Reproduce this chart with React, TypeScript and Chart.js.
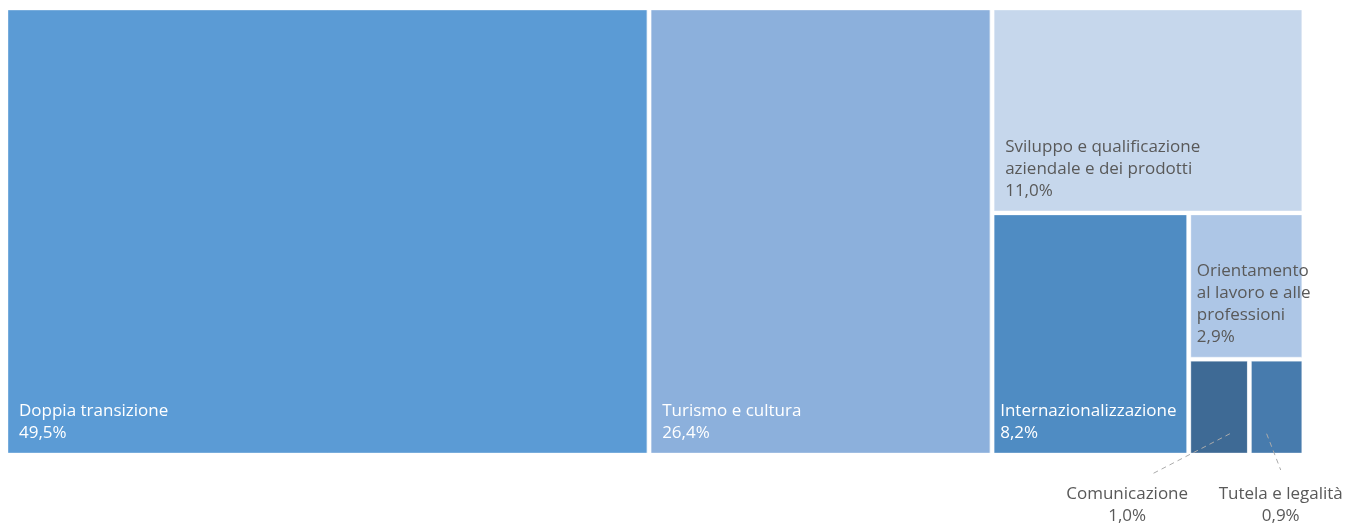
import React, { useEffect, useRef } from "react";
import { Chart, registerables } from "chart.js";

Chart.register(...registerables);

// ---- data ----
const categories = [
  "Doppia transizione",
  "Turismo e cultura",
  "Sviluppo e qualificazione aziendale e dei prodotti",
  "Internazionalizzazione",
  "Orientamento al lavoro e alle professioni",
  "Comunicazione",
  "Tutela e legalità",
];
const labelLines: string[][] = [
  ["Doppia transizione"],
  ["Turismo e cultura"],
  ["Sviluppo e qualificazione", "aziendale e dei prodotti"],
  ["Internazionalizzazione"],
  ["Orientamento", "al lavoro e alle", "professioni"],
  ["Comunicazione"],
  ["Tutela e legalità"],
];
const shares = [49.5, 26.4, 11.0, 8.2, 2.9, 1.0, 0.9];
const percentLabels = ["49,5%", "26,4%", "11,0%", "8,2%", "2,9%", "1,0%", "0,9%"];
const tileColors = ["#5B9BD5", "#8CB0DC", "#C6D7EC", "#4F8CC3", "#ADC6E6", "#3E6A95", "#477BAD"];
const textColors = ["#FFFFFF", "#FFFFFF", "#595959", "#FFFFFF", "#595959", "#595959", "#595959"];
const labelOutside = [false, false, false, false, false, true, true];

// ---- layout constants (pixels) ----
const PAD = { left: 6, right: 44, top: 8, bottom: 68 };
const PLOT_W = 1348 - PAD.left - PAD.right;
const PLOT_H = 523 - PAD.top - PAD.bottom;
const ASPECT = PLOT_W / PLOT_H;
const GAP = 2 / PLOT_H;
const FONT = "17px 'Open Sans', 'Noto Sans', sans-serif";

type Rect = { x0: number; y0: number; x1: number; y1: number };

function squarify(values: number[], area: Rect): Rect[] {
  const out: Rect[] = new Array(values.length);
  const order = values.map((_, i) => i).sort((a, b) => values[b] - values[a]);
  const total = values.reduce((a, b) => a + b, 0);
  const scale = ((area.x1 - area.x0) * (area.y1 - area.y0)) / total;
  let { x0, y0, x1, y1 } = area;
  let i = 0;
  while (i < order.length) {
    const w = x1 - x0;
    const h = y1 - y0;
    const side = Math.min(w, h);
    const worst = (row: number[]) => {
      const a = row.map((k) => values[k] * scale);
      const s = a.reduce((p, q) => p + q, 0);
      const mx = Math.max(...a);
      const mn = Math.min(...a);
      return Math.max((side * side * mx) / (s * s), (s * s) / (side * side * mn));
    };
    const row = [order[i]];
    let j = i + 1;
    while (j < order.length && worst([...row, order[j]]) <= worst(row)) {
      row.push(order[j]);
      j++;
    }
    const s = row.reduce((p, k) => p + values[k] * scale, 0);
    if (w >= h) {
      const cw = s / h;
      let y = y0;
      for (const k of row) {
        const th = (values[k] * scale) / cw;
        out[k] = { x0, y0: y, x1: x0 + cw, y1: y + th };
        y += th;
      }
      x0 += cw;
    } else {
      const rh = s / w;
      let x = x0;
      for (const k of row) {
        const tw = (values[k] * scale) / rh;
        out[k] = { x0: x, y0, x1: x + tw, y1: y0 + rh };
        x += tw;
      }
      y0 += rh;
    }
    i = j;
  }
  return out;
}

const labelPlugin = {
  id: "treemapLabels",
  afterDatasetsDraw(chart: any) {
    const rects: Rect[] = chart.options.plugins.treemapLabels.rects;
    const xs = chart.scales.x;
    const ys = chart.scales.y;
    const ctx = chart.ctx;
    ctx.save();
    ctx.font = FONT;
    ctx.textBaseline = "middle";
    const lineH = 22;
    rects.forEach((r, i) => {
      const left = xs.getPixelForValue(r.x0 + GAP);
      const right = xs.getPixelForValue(r.x1 - GAP);
      const top = ys.getPixelForValue(r.y0 + GAP);
      const bottom = ys.getPixelForValue(r.y1 - GAP);
      const lines = [...labelLines[i], percentLabels[i]];
      if (!labelOutside[i]) {
        ctx.fillStyle = textColors[i];
        ctx.textAlign = "left";
        const padX = right - left < 250 ? 6 : 11;
        const lastY = bottom - 20;
        lines.forEach((t, li) => {
          ctx.fillText(t, left + padX, lastY - (lines.length - 1 - li) * lineH);
        });
      } else {
        const cx = (left + right) / 2;
        const isCom = i === 5;
        const sx = left + (right - left) * (isCom ? 0.69 : 0.3);
        const sy = top + (bottom - top) * 0.79;
        const labelX = isCom ? cx - 92 : cx + 4;
        const ex = isCom ? labelX + 23 : labelX;
        const ey = isCom ? bottom + 22 : bottom + 17;
        ctx.strokeStyle = "#ABABAB";
        ctx.lineWidth = 1;
        ctx.setLineDash([5, 4]);
        ctx.beginPath();
        ctx.moveTo(sx, sy);
        ctx.lineTo(ex, ey);
        ctx.stroke();
        ctx.setLineDash([]);
        ctx.fillStyle = textColors[i];
        ctx.textAlign = "center";
        lines.forEach((t, li) => {
          ctx.fillText(t, labelX, bottom + 41 + li * lineH);
        });
      }
    });
    ctx.restore();
  },
};

export default function App() {
  const ref = useRef<HTMLCanvasElement | null>(null);
  useEffect(() => {
    document.body.style.margin = "0";
    const rects = squarify(shares, { x0: 0, y0: 0, x1: ASPECT, y1: 1 });
    const datasets = rects.map((r, i) => {
      const a = r.x0 + GAP, b = r.x1 - GAP, c = r.y0 + GAP, d = r.y1 - GAP;
      return {
        label: categories[i],
        data: [
          { x: a, y: c },
          { x: b, y: c },
          { x: b, y: d },
          { x: a, y: d },
          { x: a, y: c },
        ],
        fill: "shape",
        backgroundColor: tileColors[i],
        borderColor: "rgba(255,255,255,0.35)",
        borderWidth: 1,
        pointRadius: 0,
        pointHoverRadius: 0,
        tension: 0,
      };
    });
    const chart = new Chart(ref.current!, {
      type: "line",
      data: { datasets } as any,
      options: {
        animation: false,
        responsive: false,
        maintainAspectRatio: false,
        layout: { padding: PAD },
        events: [],
        scales: {
          x: { type: "linear", min: 0, max: ASPECT, display: false },
          y: { type: "linear", min: 0, max: 1, reverse: true, display: false },
        },
        plugins: {
          legend: { display: false },
          tooltip: { enabled: false },
          treemapLabels: { rects },
        } as any,
      },
      plugins: [labelPlugin],
    });
    return () => chart.destroy();
  }, []);
  return (
    <div style={{ position: "absolute", left: 0, top: 0, width: 1348, height: 523, background: "#fff" }}>
      <canvas ref={ref} width={1348} height={523} style={{ width: 1348, height: 523 }} />
    </div>
  );
}
